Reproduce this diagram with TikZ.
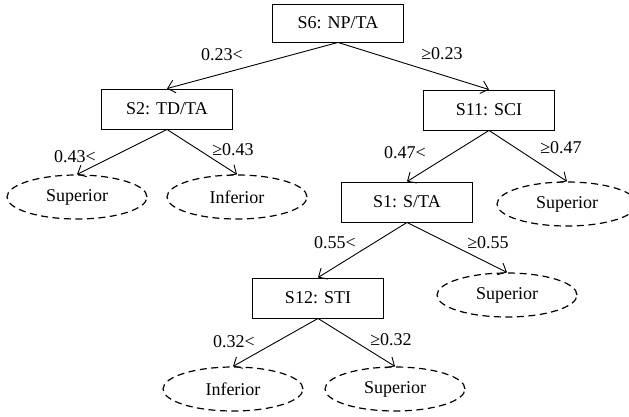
\documentclass[tikz,border=0pt]{standalone}
\usepackage{fontspec}
\setmainfont{Liberation Serif}
\usetikzlibrary{shapes.geometric,arrows.meta}
\begin{document}
\begin{tikzpicture}[x=1pt,y=-1pt,
  font=\fontsize{18}{21}\selectfont,
  box/.style={draw,line width=0.9pt,rectangle,minimum width=131pt,minimum height=40pt,inner sep=0pt},
  leaf/.style={draw,line width=1.2pt,dash pattern=on 7pt off 4.5pt,ellipse,minimum width=140pt,minimum height=44pt,inner sep=0pt},
  arr/.style={line width=0.9pt,-{Straight Barb[length=7pt,width=13pt,line width=0.9pt]}},
  lbl/.style={inner sep=0pt}]
\useasboundingbox (0,0) rectangle (629,417);
\clip (0,0) rectangle (629,417);
\node[box,minimum height=38pt] (s6) at (338,23) {S6: NP/TA};
\node[box] (s2) at (167,109) {S2: TD/TA};
\node[box] (s11) at (489,110) {S11: SCI};
\node[box] (s1) at (407,202) {S1: S/TA};
\node[box] (s12) at (318,298) {S12: STI};
\node[leaf] (l1) at (77,197) {Superior};
\node[leaf] (l2) at (237,197) {Inferior};
\node[leaf] (l3) at (567,204) {Superior};
\node[leaf] (l4) at (507,295) {Superior};
\node[leaf] (l5) at (233,389) {Inferior};
\node[leaf] (l6) at (395,389) {Superior};
\draw[arr] (s6.south) -- (s2.north);
\draw[arr] (s6.south) -- (s11.north);
\draw[arr] (s2.south) -- (l1.north);
\draw[arr] (s2.south) -- (l2.north);
\draw[arr] (s11.south) -- (s1.north);
\draw[arr] (s11.south) -- (l3.north);
\draw[arr] (s1.south) -- (s12.north);
\draw[arr] (s1.south) -- (l4.north);
\draw[arr] (s12.south) -- (l5.north);
\draw[arr] (s12.south) -- (l6.north);
\node[lbl] (t1) at (222,55) {0.23<};
\node[lbl] (t2) at (442,54) {≥0.23};
\node[lbl] (t3) at (75,157) {0.43<};
\node[lbl] (t4) at (233,150) {≥0.43};
\node[lbl] (t5) at (405,153) {0.47<};
\node[lbl] (t6) at (561,148) {≥0.47};
\node[lbl] (t7) at (335,243) {0.55<};
\node[lbl] (t8) at (488,243) {≥0.55};
\node[lbl] (t9) at (234,342) {0.32<};
\node[lbl] (t10) at (391,340) {≥0.32};
\end{tikzpicture}
\end{document}
